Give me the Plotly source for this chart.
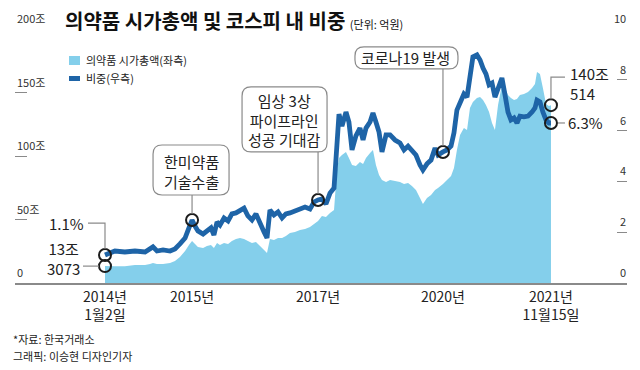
import plotly.graph_objects as go

# ---------------- data ----------------
dates = [
    "2014-01-02", "2014-03-07", "2014-05-10", "2014-07-14", "2014-09-17", "2014-10-19", "2014-11-07", "2014-12-03",
    "2015-01-11", "2015-02-25", "2015-03-29", "2015-04-30", "2015-06-02", "2015-06-27", "2015-07-17", "2015-08-05",
    "2015-08-24", "2015-09-26", "2015-10-21", "2015-11-16", "2015-12-05", "2015-12-25", "2016-01-13", "2016-02-08",
    "2016-03-05", "2016-03-30", "2016-04-25", "2016-05-21", "2016-06-16", "2016-07-11", "2016-08-06", "2016-09-01",
    "2016-09-27", "2016-10-23", "2016-11-11", "2016-11-30", "2016-12-26", "2017-01-21", "2017-02-16", "2017-03-13",
    "2017-04-08", "2017-05-10", "2017-06-12", "2017-07-14", "2017-08-15", "2017-09-10", "2017-10-06", "2017-10-31",
    "2017-11-26", "2017-12-22", "2018-01-17", "2018-02-05", "2018-02-18", "2018-03-09", "2018-04-04", "2018-04-23",
    "2018-05-13", "2018-06-07", "2018-07-03", "2018-07-23", "2018-08-11", "2018-09-06", "2018-09-25", "2018-10-14",
    "2018-11-03", "2018-11-22", "2018-12-18", "2019-01-13", "2019-02-14", "2019-03-18", "2019-04-13", "2019-05-09",
    "2019-06-03", "2019-06-29", "2019-07-25", "2019-08-13", "2019-09-08", "2019-10-04", "2019-10-30", "2019-11-18",
    "2019-12-20", "2020-01-15", "2020-02-10", "2020-02-29", "2020-03-19", "2020-04-08", "2020-05-03", "2020-05-23",
    "2020-06-11", "2020-06-30", "2020-07-26", "2020-08-15", "2020-09-03", "2020-09-22", "2020-10-12", "2020-10-31",
    "2020-11-19", "2020-12-09", "2021-01-03", "2021-01-23", "2021-02-11", "2021-03-02", "2021-03-22", "2021-04-10",
    "2021-04-29", "2021-05-25", "2021-06-20", "2021-07-16", "2021-08-04", "2021-08-17", "2021-09-05", "2021-09-24",
    "2021-10-14", "2021-11-02", "2021-11-15",
]

# 의약품 시가총액 (조원)
market_cap = [
    13.3, 13.2, 13.2, 14.2, 14.2, 15.0, 15.7, 15.0,
    15.0, 15.7, 17.3, 20.5, 25.2, 29.9, 33.1, 30.7,
    28.3, 27.6, 29.1, 29.9, 27.6, 31.5, 29.9, 31.5,
    30.7, 33.1, 34.6, 35.4, 34.6, 33.1, 31.5, 32.3,
    29.1, 26.0, 23.6, 34.6, 33.9, 35.4, 35.4, 37.0,
    39.4, 40.2, 41.7, 42.5, 44.1, 46.5, 48.8, 52.8,
    52.0, 55.1, 57.5, 89.0, 98.4, 100.8, 103.1, 98.4,
    92.9, 92.1, 95.3, 93.7, 98.4, 102.4, 104.7, 92.9,
    85.0, 81.1, 79.5, 81.1, 80.3, 79.5, 78.0, 78.7,
    76.4, 73.2, 66.9, 62.2, 66.9, 69.3, 73.2, 74.8,
    78.0, 81.1, 84.3, 90.6, 104.7, 116.5, 122.0, 120.5,
    137.8, 142.5, 145.7, 146.5, 144.1, 140.2, 134.6, 126.0,
    120.5, 140.2, 155.9, 153.5, 148.0, 145.7, 144.1, 144.9,
    148.0, 148.8, 150.4, 153.5, 156.7, 166.1, 164.6, 153.5,
    140.9, 139.4, 140.05,
]

# 코스피 내 비중 (%)
kospi_share = [
    1.1, 1.26, 1.22, 1.26, 1.22, 1.34, 1.42, 1.26,
    1.30, 1.26, 1.34, 1.54, 1.77, 2.17, 2.48, 2.24,
    2.05, 1.93, 2.05, 2.17, 1.89, 2.40, 2.28, 2.56,
    2.44, 2.72, 2.76, 2.87, 2.95, 2.64, 2.48, 2.72,
    2.32, 2.01, 1.77, 2.87, 2.68, 2.80, 2.56, 2.72,
    2.76, 2.83, 2.87, 2.99, 2.91, 3.19, 3.27, 3.31,
    3.11, 3.54, 3.74, 5.83, 6.65, 6.18, 6.73, 6.34,
    5.24, 5.79, 6.10, 5.63, 6.10, 6.34, 6.69, 6.34,
    5.94, 5.16, 5.83, 5.83, 5.63, 5.51, 5.24, 5.39,
    5.24, 5.04, 4.65, 4.45, 4.69, 4.84, 5.31, 5.04,
    5.16, 5.24, 5.39, 5.91, 6.81, 7.13, 7.44, 7.32,
    8.27, 8.90, 8.98, 8.78, 8.46, 8.23, 7.80, 7.87,
    7.32, 7.68, 8.07, 7.40, 6.73, 6.42, 6.50, 6.30,
    6.57, 6.54, 6.57, 6.73, 6.89, 7.20, 7.13, 6.73,
    6.42, 6.30, 6.3,
]

event_dates = ["2015-07-17", "2017-10-06", "2019-12-20"]
event_labels = ["한미약품<br>기술수출", "임상 3상<br>파이프라인<br>성공 기대감", "코로나19 발생"]

tick_text = ["2014년<br>1월2일", "2015년", "2017년", "2020년", "2021년<br>11월15일"]
left_ticks = [0, 50, 100, 150, 200]
left_tick_text = ["0", "50조", "100조", "150조", "200조"]
right_ticks = [0, 2, 4, 6, 8, 10]
right_tick_text = ["0", "2", "4", "6", "8", "10"]

start_cap_label = "13조<br>3073"
end_cap_label = "140조<br>514"
start_share_label = "1.1%"
end_share_label = "6.3%"

title_text = "의약품 시가총액 및 코스피 내 비중"
unit_text = "(단위: 억원)"
legend_labels = ["의약품 시가총액(좌측)", "비중(우측)"]
source_lines = ["*자료: 한국거래소", "그래픽: 이승현 디자인기자"]

# ---------------- style ----------------
AREA = "#84cfeb"
LINE = "#1e64a7"
RING = "#1c1c1c"
GREY = "#8a8a8a"
TXT = "#222222"
FONT = "Noto Sans CJK KR, sans-serif"

W, H = 640, 370
ML, MR, MT, MB = 15, 13, 29, 87
PW, PH = W - ML - MR, H - MT - MB


def px_x(px):
    return (px - ML) / PW


def px_y(py):
    return (H - MB - py) / PH


fig = go.Figure()
fig.add_trace(go.Scatter(x=dates, y=market_cap, mode="none", fill="tozeroy",
                         fillcolor=AREA, yaxis="y", showlegend=False, hoverinfo="skip"))
fig.add_trace(go.Scatter(x=dates, y=kospi_share, mode="lines",
                         line=dict(color=LINE, width=4.8), yaxis="y2",
                         showlegend=False, hoverinfo="skip"))

ev_idx = [dates.index(d) for d in event_dates]
ring_line_idx = [0] + ev_idx + [len(dates) - 1]
ring_marker = dict(symbol="circle", size=12, color="rgba(255,255,255,0)",
                   line=dict(color=RING, width=2))
fig.add_trace(go.Scatter(x=[dates[i] for i in ring_line_idx],
                         y=[kospi_share[i] for i in ring_line_idx],
                         mode="markers", marker=ring_marker, yaxis="y2",
                         showlegend=False, hoverinfo="skip"))
fig.add_trace(go.Scatter(x=[dates[0], dates[-1]], y=[market_cap[0], market_cap[-1]],
                         mode="markers", marker=ring_marker, yaxis="y",
                         showlegend=False, hoverinfo="skip"))

shapes = []
annotations = []


def rounded(l, r, b, t, rad=9):
    return (f"M {l+rad},{b} L {r-rad},{b} Q {r},{b} {r},{b+rad} L {r},{t-rad} "
            f"Q {r},{t} {r-rad},{t} L {l+rad},{t} Q {l},{t} {l},{t-rad} "
            f"L {l},{b+rad} Q {l},{b} {l+rad},{b} Z")


# callout boxes (pixel offsets relative to the event point, y up)
box_geo = [(-39, 37, 25, 75, -1, 49), (-76, 9, 48, 113, -34, 80), (-88, 15, 83, 105, -37, 94)]
for i, (l, r, b, t, xs, ys) in zip(ev_idx, box_geo):
    shapes.append(dict(type="line", xref="x", yref="y2", xsizemode="pixel", ysizemode="pixel",
                       xanchor=dates[i], yanchor=kospi_share[i], x0=0, x1=0, y0=6, y1=b,
                       line=dict(color=GREY, width=1.2), layer="above"))
    shapes.append(dict(type="path", xref="x", yref="y2", xsizemode="pixel", ysizemode="pixel",
                       xanchor=dates[i], yanchor=kospi_share[i], path=rounded(l, r, b, t),
                       line=dict(color=GREY, width=1.2), fillcolor="white", layer="above"))
for i, lab, (l, r, b, t, xs, ys) in zip(ev_idx, event_labels, box_geo):
    annotations.append(dict(x=dates[i], y=kospi_share[i], xref="x", yref="y2", text=lab,
                            showarrow=False, xanchor="center", yanchor="middle",
                            xshift=xs, yshift=ys, font=dict(family=FONT, size=15, color=TXT)))

# start / end labels
annotations.append(dict(x=dates[0], y=kospi_share[0], xref="x", yref="y2", text=start_share_label,
                        showarrow=False, xanchor="right", yanchor="middle", xshift=-19, yshift=32,
                        font=dict(family=FONT, size=15, color=TXT)))
shapes.append(dict(type="path", xref="x", yref="y2", xsizemode="pixel", ysizemode="pixel",
                   xanchor=dates[0], yanchor=kospi_share[0], path="M -17,32 L 0,32 L 0,6",
                   line=dict(color=GREY, width=1.2)))
annotations.append(dict(x=dates[0], y=market_cap[0], xref="x", yref="y", text=start_cap_label,
                        showarrow=False, xanchor="right", yanchor="middle", xshift=-23, yshift=8,
                        font=dict(family=FONT, size=15, color=TXT)))
shapes.append(dict(type="line", xref="x", yref="y", xsizemode="pixel", ysizemode="pixel",
                   xanchor=dates[0], yanchor=market_cap[0], x0=-22, x1=-6, y0=0, y1=0,
                   line=dict(color=GREY, width=1.2)))
annotations.append(dict(x=dates[-1], y=market_cap[-1], xref="x", yref="y", text=end_cap_label,
                        showarrow=False, xanchor="left", yanchor="middle", xshift=17, yshift=22,
                        align="left", font=dict(family=FONT, size=15, color=TXT)))
shapes.append(dict(type="path", xref="x", yref="y", xsizemode="pixel", ysizemode="pixel",
                   xanchor=dates[-1], yanchor=market_cap[-1], path="M 0,6 L 0,28 L 14,28",
                   line=dict(color=GREY, width=1.2)))
annotations.append(dict(x=dates[-1], y=kospi_share[-1], xref="x", yref="y2", text=end_share_label,
                        showarrow=False, xanchor="left", yanchor="middle", xshift=15, yshift=0,
                        font=dict(family=FONT, size=15, color=TXT)))
shapes.append(dict(type="line", xref="x", yref="y2", xsizemode="pixel", ysizemode="pixel",
                   xanchor=dates[-1], yanchor=kospi_share[-1], x0=7, x1=14, y0=0, y1=0,
                   line=dict(color=GREY, width=1.2)))

# y-axis tick labels sitting on top of short tick marks
for v, lab in zip(left_ticks, left_tick_text):
    annotations.append(dict(x=px_x(15), y=v, xref="paper", yref="y", text=lab, showarrow=False,
                            xanchor="left", yanchor="bottom", yshift=1,
                            font=dict(family=FONT, size=11, color="#333")))
for v, lab in zip(right_ticks, right_tick_text):
    annotations.append(dict(x=px_x(628), y=v, xref="paper", yref="y2", text=lab, showarrow=False,
                            xanchor="right", yanchor="bottom", yshift=1,
                            font=dict(family=FONT, size=11, color="#333")))

# title
annotations.append(dict(x=px_x(63), y=px_y(20), xref="paper", yref="paper",
                        text=f"<b>{title_text}</b> <span style='font-size:11px'>{unit_text}</span>",
                        showarrow=False, xanchor="left", yanchor="middle",
                        font=dict(family=FONT, size=20, color="#111")))

# legend (manual)
shapes.append(dict(type="rect", xref="paper", yref="paper", x0=px_x(69), x1=px_x(80),
                   y0=px_y(65), y1=px_y(56), fillcolor=AREA, line=dict(width=0)))
shapes.append(dict(type="rect", xref="paper", yref="paper", x0=px_x(69), x1=px_x(80),
                   y0=px_y(81), y1=px_y(76), fillcolor=LINE, line=dict(width=0)))
for lab, yy in zip(legend_labels, [60, 78]):
    annotations.append(dict(x=px_x(84), y=px_y(yy), xref="paper", yref="paper", text=lab,
                            showarrow=False, xanchor="left", yanchor="middle",
                            font=dict(family=FONT, size=11, color=TXT)))

# source
for lab, yy in zip(source_lines, [339, 356]):
    annotations.append(dict(x=px_x(11), y=px_y(yy), xref="paper", yref="paper", text=lab,
                            showarrow=False, xanchor="left", yanchor="middle",
                            font=dict(family=FONT, size=11, color=TXT)))

tick_dates = [dates[0]] + event_dates + [dates[-1]]

fig.update_layout(
    width=W, height=H, margin=dict(l=ML, r=MR, t=MT, b=MB, autoexpand=False),
    paper_bgcolor="white", plot_bgcolor="white",
    xaxis=dict(type="date", range=["2012-06-01", "2023-03-20"], showline=True,
               linecolor=GREY, linewidth=1.5, showgrid=False, zeroline=False,
               tickvals=tick_dates, ticktext=tick_text, ticks="", automargin=False,
               tickfont=dict(family=FONT, size=14, color=TXT)),
    yaxis=dict(range=[0, 200], tickvals=left_ticks, showticklabels=False,
               ticks="inside", ticklen=12, tickcolor=GREY, tickwidth=1,
               showgrid=False, zeroline=False, showline=False, automargin=False),
    yaxis2=dict(range=[0, 10], overlaying="y", side="right", tickvals=right_ticks,
                showticklabels=False, ticks="inside", ticklen=10, tickcolor=GREY,
                tickwidth=1, showgrid=False, zeroline=False, showline=False,
                automargin=False),
    shapes=shapes, annotations=annotations, showlegend=False,
)

fig.write_html("out.html", config={"displayModeBar": False},
               post_script="document.body.style.margin='0';document.body.style.overflow='hidden';")
